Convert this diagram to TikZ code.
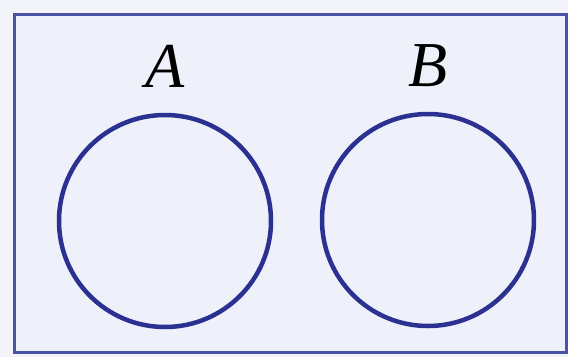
\documentclass[tikz,border=0pt]{standalone}
\usepackage{fontspec}
\setmainfont{Liberation Serif}
\usepackage{tikz}
\usetikzlibrary{positioning}
\definecolor{pagebg}{HTML}{F3F4FA}
\definecolor{boxbg}{HTML}{EEF0FA}
\definecolor{boxline}{HTML}{4A52A6}
\definecolor{setline}{HTML}{2B3190}
\tikzset{
  universe/.style={draw=boxline, fill=boxbg, line width=3pt},
  setcirc/.style={circle, draw=setline, line width=4.5pt, minimum size=212pt, inner sep=0pt},
  setlbl/.style={inner sep=0pt, text depth=0pt, font=\fontsize{64}{70}\selectfont\itshape},
}

\begin{document}
\begin{tikzpicture}[x=1pt, y=-1pt]
  \useasboundingbox[fill=pagebg] (0,0) rectangle (568,357);
  \draw[universe] (14,14) rectangle (566,352);
  \node[setcirc] (cA) at (165,221) {};
  \node[setcirc] (cB) at (428,220) {};
  \node[setlbl, above=25pt of cA] (lA) {A};
  \node[setlbl, above=25pt of cB] (lB) {B};
\end{tikzpicture}
\end{document}
